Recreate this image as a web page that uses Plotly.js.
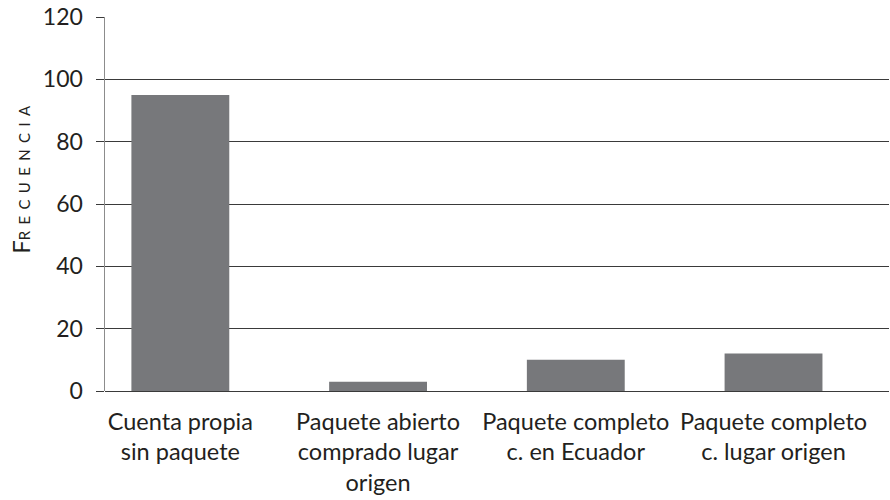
<!DOCTYPE html>
<html>
<head>
<meta charset="utf-8">
<script src="https://cdn.plot.ly/plotly-3.0.1.min.js"></script>
<style>html,body{margin:0;padding:0;background:#fff;}#chart{width:890px;height:500px;}</style>
</head>
<body>
<div id="chart"></div>
<script>
var categories = [
  "Cuenta propia<br>sin paquete",
  "Paquete abierto<br>comprado lugar<br>origen",
  "Paquete completo<br>c. en Ecuador",
  "Paquete completo<br>c. lugar origen"
];
var frecuencia = [95, 3, 10, 12];
var yTicks = [0, 20, 40, 60, 80, 100, 120];
var yTitleFirst = "F";
var yTitleRest = "RECUENCIA";

var sep = " \u2006";
var titleText = yTitleFirst + "<span style=\"font-size:15px\">" +
  yTitleRest.split("").join(sep) + "</span>";

var trace = {
  type: "bar",
  x: categories,
  y: frecuencia,
  marker: {color: "#77787b", line: {width: 0}},
  width: 0.495,
  hoverinfo: "none"
};

var layout = {
  width: 890,
  height: 500,
  margin: {l: 105, r: 1, t: 17, b: 109},
  paper_bgcolor: "#ffffff",
  plot_bgcolor: "#ffffff",
  font: {family: "Lato, 'DejaVu Sans', sans-serif", color: "#231f20"},
  showlegend: false,
  xaxis: {
    type: "category",
    range: [-0.381, 3.584],
    showgrid: false,
    showline: false,
    zeroline: false,
    ticks: "",
    tickfont: {size: 23.5, color: "#231f20"},
    ticklabelstandoff: 14,
    fixedrange: true
  },
  yaxis: {
    range: [0, 120],
    tickvals: yTicks,
    ticktext: yTicks.map(String),
    showgrid: true,
    gridcolor: "#3a3a3a",
    gridwidth: 1,
    zeroline: true,
    zerolinecolor: "#3a3a3a",
    zerolinewidth: 1,
    showline: true,
    linecolor: "#8c8c8c",
    linewidth: 1.5,
    ticks: "outside",
    ticklen: 8,
    tickcolor: "#3a3a3a",
    tickwidth: 1,
    tickfont: {size: 23, color: "#231f20"},
    ticklabelstandoff: 8,
    fixedrange: true
  },
  annotations: [{
    text: titleText,
    xref: "paper",
    yref: "paper",
    x: -0.107,
    y: 0.565,
    xanchor: "center",
    yanchor: "middle",
    textangle: -90,
    showarrow: false,
    font: {size: 24, color: "#231f20"}
  }]
};

Plotly.newPlot("chart", [trace], layout, {displayModeBar: false, staticPlot: true});
</script>
</body>
</html>
